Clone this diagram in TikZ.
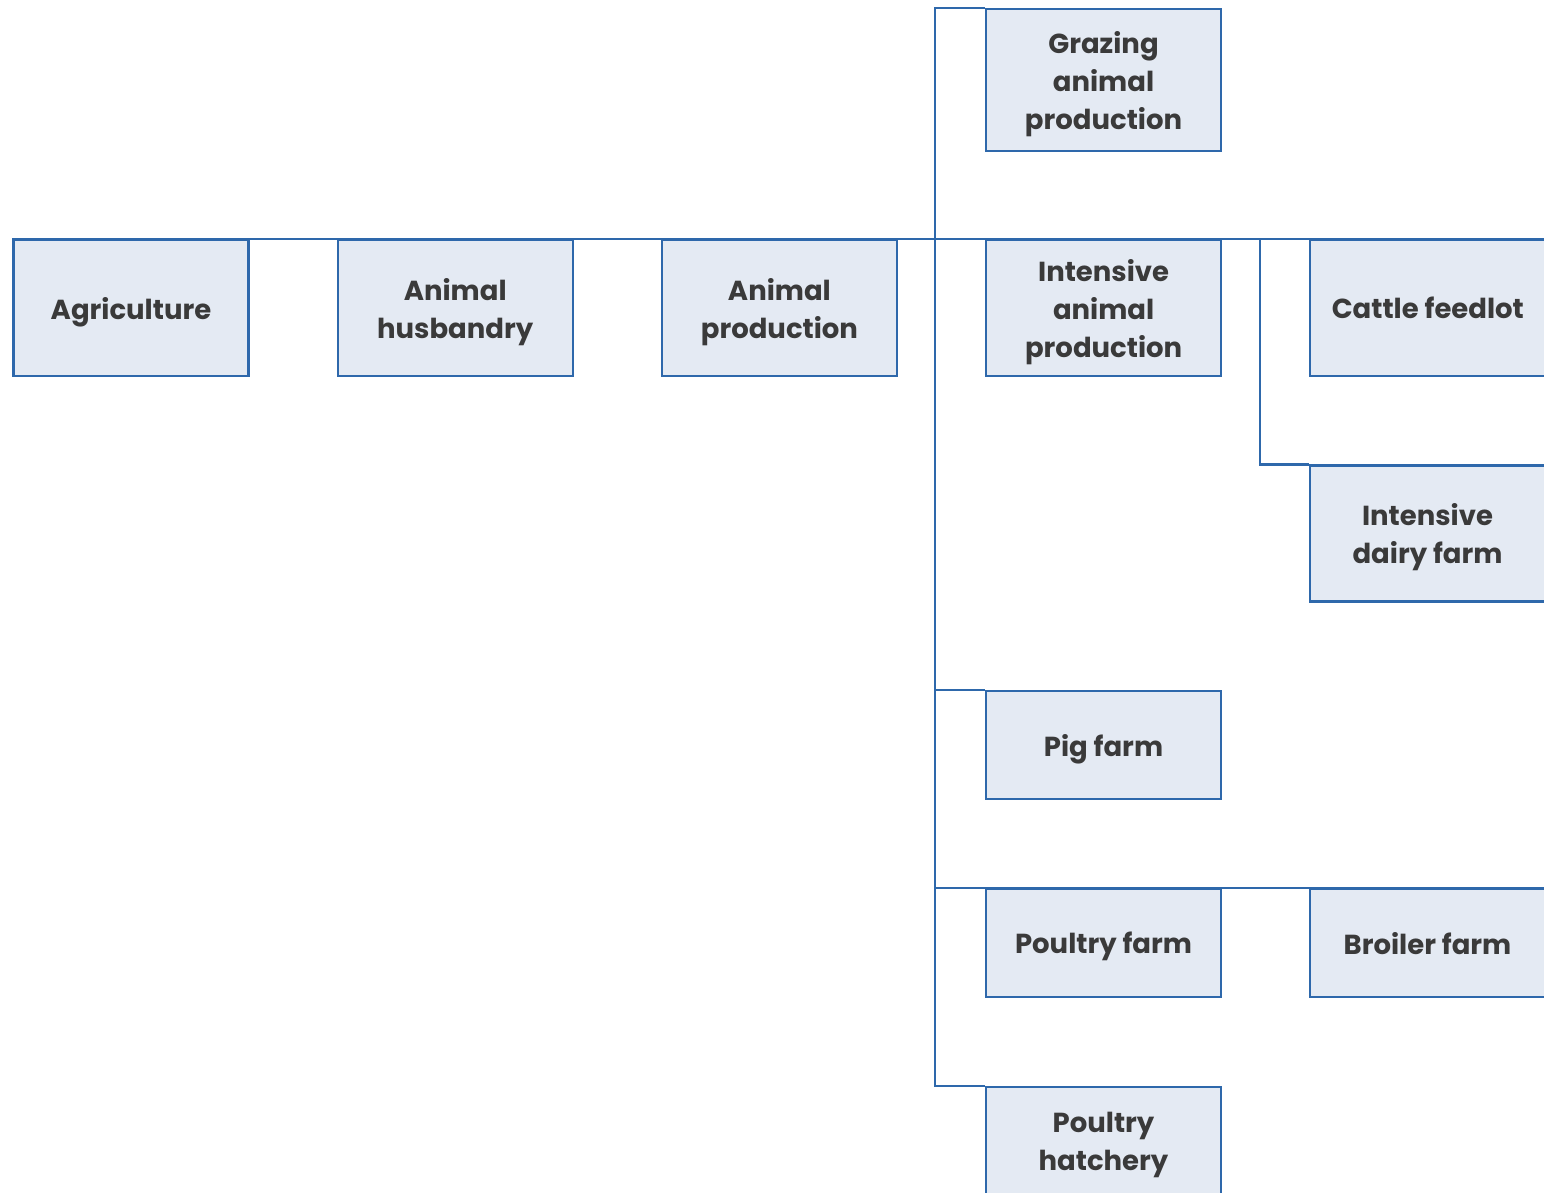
\documentclass[tikz,border=0pt]{standalone}
\usepackage{fontspec}
\setmainfont{Poppins}
\usetikzlibrary{positioning}

\definecolor{boxline}{HTML}{2E68AB}
\definecolor{boxfill}{HTML}{E4EAF3}
\definecolor{boxtext}{HTML}{3A3A3A}

\tikzset{
  sector/.style={rectangle, draw=boxline, fill=boxfill, line width=2.2pt,
    minimum width=235pt, minimum height=136pt, inner sep=0pt, align=center,
    text depth=0pt, text=boxtext, font=\fontsize{27.5}{38}\selectfont\bfseries},
  farm/.style={sector, minimum height=108pt},
  link/.style={boxline, line width=2.2pt}
}

\begin{document}
\begin{tikzpicture}[x=1pt,y=-1pt]
  \useasboundingbox (0,0) rectangle (1544,1192);
  \clip (0,0) rectangle (1544,1192);

  % main row
  \node[sector] (agri) at (131,308) {Agriculture};
  \node[sector, right=87pt of agri] (husb) {Animal\\husbandry};
  \node[sector, right=87pt of husb] (prod) {Animal\\production};
  \node[sector, right=87pt of prod] (inten) {Intensive\\animal\\production};
  \node[sector, right=87pt of inten] (catt) {Cattle feedlot};

  % branches
  \node[sector, minimum height=142pt] (graz) at (1103.5,80) {Grazing\\animal\\production};
  \node[sector] (dairy) at (1427.5,533.5) {Intensive\\dairy farm};
  \node[farm] (pig) at (1103.5,745) {Pig farm};
  \node[farm] (poul) at (1103.5,943) {Poultry farm};
  \node[farm] (broil) at (1427.5,943) {Broiler farm};
  \node[farm] (hatch) at (1103.5,1141) {Poultry\\hatchery};

  \path (graz.north west) ++(-50,0) coordinate (spine);
  \coordinate (fork) at (1260,240);

  \draw[link] (agri.north west) -- (catt.north east);
  \draw[link] (graz.north west) -- (spine) -- (spine |- hatch.north west) -- (hatch.north west);
  \draw[link] (spine |- pig.north west) -- (pig.north west);
  \draw[link] (spine |- poul.north west) -- (broil.north east);
  \draw[link] (fork) |- (dairy.north west);
\end{tikzpicture}
\end{document}
